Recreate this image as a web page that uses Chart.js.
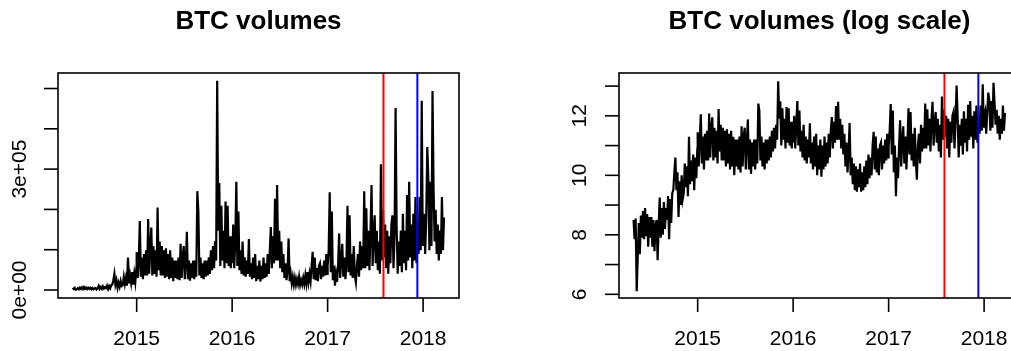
<!DOCTYPE html>
<html>
<head>
<meta charset="utf-8">
<script src="https://cdn.jsdelivr.net/npm/chart.js@4/dist/chart.umd.min.js"></script>
<style>
  html, body { margin: 0; padding: 0; background: #fff; overflow: hidden; width: 1011px; height: 351px; }
  .panel { position: absolute; top: 0; }
  #leftPanel { left: 0; }
  #rightPanel { left: 540px; }
</style>
</head>
<body>
<div class="panel" id="leftPanel"><canvas id="volChart" width="505" height="351"></canvas></div>
<div class="panel" id="rightPanel"><canvas id="logChart" width="520" height="351"></canvas></div>
<script>
// Daily BTC trading volume, sampled every 4 days, stored as natural log of volume.
const stepDays = 4;
const firstDay2014 = 120;   // 1 May 2014 (day of year)
const logVol2014 = [
  8.5, 7.85, 8.55, 6.1, 7.25, 8.4, 7.35, 8.65,
  7.9, 8.8, 7.85, 8.9, 7.95, 8.7, 7.6, 8.6,
  7.9, 8.6, 7.6, 8.5, 7.45, 8.3, 8.5, 7.15,
  8.3, 9.25, 7.9, 8.9, 8.0, 9.1, 8.2, 8.9,
  8.5, 9.3, 7.85, 9.2, 8.4, 9.4, 9.5, 10.1,
  10.6, 9.5, 10.1, 8.6, 9.8, 9.0, 10.0, 9.2,
  9.4, 10.4, 9.6, 10.3, 9.3, 11.3, 9.7, 10.5,
  9.8, 10.7, 9.5, 10.6, 9.9, 10.9
];
const logVol2015 = [
  11.45, 10.3, 11.2, 12.05, 10.4, 11.3, 10.2, 11.4,
  10.5, 11.5, 10.5, 12.08, 10.6, 11.6, 11.95, 10.5,
  11.6, 10.6, 11.5, 10.4, 12.23, 10.8, 11.7, 10.5,
  11.6, 10.5, 11.5, 10.3, 11.55, 10.4, 11.4, 10.2,
  11.5, 10.3, 11.3, 10.0, 11.2, 10.3, 11.2, 10.2,
  11.3, 10.1, 11.65, 10.3, 11.3, 11.6, 10.2, 11.1,
  11.88, 10.2, 11.2, 10.05, 11.1, 10.3, 11.2, 10.2,
  11.2, 10.4, 12.41, 12.18, 10.5, 11.3, 10.3, 11.1,
  10.2, 11.2, 10.4, 11.2, 10.5, 11.3, 10.6, 11.5,
  10.8, 11.6, 10.9, 11.7, 11.2, 13.16, 11.9, 12.49,
  11.0, 12.25, 11.2, 11.9, 10.9, 12.3, 11.1, 12.25,
  11.0, 11.8, 10.9, 11.8
];
const logVol2016 = [
  11.1, 12.0, 10.9, 11.7, 12.5, 11.0, 12.18, 10.8,
  11.5, 10.6, 11.7, 10.5, 11.3, 10.4, 11.2, 10.6,
  11.75, 10.4, 11.1, 10.2, 11.3, 10.3, 11.4, 10.0,
  11.0, 10.2, 11.2, 9.95, 11.0, 10.2, 11.3, 10.3,
  11.1, 10.4, 11.4, 10.6, 11.5, 11.96, 10.9, 11.8,
  11.1, 12.33, 11.2, 12.47, 11.2, 11.9, 10.9, 11.7,
  10.7, 11.4, 10.3, 11.1, 10.1, 10.8, 11.76, 10.0,
  10.6, 9.7, 10.4, 9.5, 10.3, 9.45, 10.2, 9.6,
  10.4, 9.45, 10.1, 9.5, 10.3, 9.6, 10.5, 9.7,
  10.7, 9.9, 10.6, 10.0, 11.0, 11.46, 10.2, 11.3,
  10.1, 10.9, 10.0, 11.0, 11.1, 10.2, 11.0, 10.4,
  11.2, 10.5, 11.4, 10.6
];
const logVol2017 = [
  11.0, 11.5, 12.4, 10.7, 12.18, 10.1, 11.0, 9.3,
  10.6, 9.9, 11.0, 11.85, 10.3, 11.2, 11.65, 10.4,
  11.3, 10.2, 11.1, 12.25, 10.7, 12.13, 10.5, 11.4,
  10.3, 11.6, 10.5, 9.85, 11.0, 11.4, 10.4, 11.7,
  10.8, 11.6, 10.9, 12.41, 10.9, 12.22, 11.0, 11.9,
  10.8, 11.9, 12.47, 11.0, 11.8, 12.13, 11.1, 11.9,
  10.8, 11.7, 10.6, 12.65, 11.2, 12.2, 11.3, 12.0,
  10.9, 11.9, 10.6, 11.8, 11.1, 12.0, 12.13, 10.9,
  11.8, 13.02, 11.98, 10.6, 11.7, 11.0, 11.9, 10.7,
  12.15, 11.1, 11.9, 10.8, 12.37, 11.2, 12.5, 11.3,
  12.0, 10.9, 12.15, 11.2, 12.35, 11.1, 11.9, 11.4,
  12.35, 11.5, 13.06, 11.6
];
const logVol2018 = [
  12.0, 12.15, 11.4, 12.1, 12.78, 12.53, 11.5, 12.5,
  11.6, 13.11, 12.45, 11.7, 12.2, 11.4, 12.0, 11.2,
  11.9, 11.4, 12.35, 11.5, 12.1
];

// Axis ticks
const yearTicks = [2015, 2016, 2017, 2018];
const volTicks = [0, 100000, 200000, 300000, 400000, 500000];
const volTickLabels = ['0e+00', '', '', '3e+05', '', ''];
const logTicks = [6, 7, 8, 9, 10, 11, 12, 13];
const logTickLabels = ['6', '', '8', '', '10', '', '12', ''];

// Vertical event markers (decimal year)
const eventMarks = [
  { x: 2017.585, color: '#ff0000' },
  { x: 2017.94, color: '#0000ff' }
];

function yearPoints(year, firstDay, values) {
  return values.map((v, k) => ({ x: year + (firstDay + k * stepDays) / 365.25, y: v }));
}

const logSeries = [].concat(
  yearPoints(2014, firstDay2014, logVol2014),
  yearPoints(2015, 0, logVol2015),
  yearPoints(2016, 0, logVol2016),
  yearPoints(2017, 0, logVol2017),
  yearPoints(2018, 0, logVol2018)
);
const volSeries = logSeries.map(p => ({ x: p.x, y: Math.exp(p.y) }));

const FONT = '"Liberation Sans", Arial, sans-serif';

// Base-graphics style frame: box, outward ticks, rotated y labels, title, markers
const rFrame = {
  id: 'rFrame',
  afterDatasetsDraw(chart, args, o) {
    const { ctx, chartArea: a } = chart;
    const xs = chart.scales.x, ys = chart.scales.y;
    const seg = (x1, y1, x2, y2) => { ctx.beginPath(); ctx.moveTo(x1, y1); ctx.lineTo(x2, y2); ctx.stroke(); };
    ctx.save();
    ctx.lineWidth = 2;
    eventMarks.forEach(m => {
      const px = xs.getPixelForValue(m.x);
      ctx.strokeStyle = m.color;
      seg(px, a.top, px, a.bottom);
    });
    ctx.strokeStyle = '#000';
    ctx.lineWidth = 1.6;
    ctx.strokeRect(a.left, a.top, a.right - a.left, a.bottom - a.top);
    ctx.fillStyle = '#000';
    ctx.textAlign = 'center';
    ctx.textBaseline = 'middle';
    ctx.font = '21px ' + FONT;
    yearTicks.forEach(t => {
      const px = xs.getPixelForValue(t);
      seg(px, a.bottom, px, a.bottom + 14);
      ctx.fillText(String(t), px, 339);
    });
    o.ticks.forEach((t, i) => {
      const py = ys.getPixelForValue(t);
      seg(a.left - 14, py, a.left, py);
      if (o.labels[i]) {
        ctx.save();
        ctx.translate(o.labelX, py);
        ctx.rotate(-Math.PI / 2);
        ctx.fillText(o.labels[i], 0, 0);
        ctx.restore();
      }
    });
    // main title centred over the plot box
    ctx.font = 'bold 26px ' + FONT;
    ctx.fillText(o.title, (a.left + a.right) / 2, 22);
    ctx.restore();
  }
};

function makeChart(id, data, yMin, yMax, pad, frameOpts) {
  return new Chart(document.getElementById(id), {
    type: 'line',
    data: { datasets: [{ data, borderColor: '#000', borderWidth: 2.2, pointRadius: 0, tension: 0, fill: false }] },
    options: {
      responsive: false,
      animation: false,
      parsing: false,
      layout: { padding: pad },
      plugins: { legend: { display: false }, tooltip: { enabled: false }, rFrame: frameOpts },
      scales: {
        x: { type: 'linear', min: 2014.176, max: 2018.376, display: false },
        y: { type: 'linear', min: yMin, max: yMax, display: false }
      }
    },
    plugins: [rFrame]
  });
}

makeChart('volChart', volSeries, -19850, 538500,
  { left: 58, top: 73, right: 46, bottom: 53 },
  { title: 'BTC volumes', ticks: volTicks, labels: volTickLabels, labelX: 20 });

makeChart('logChart', logSeries, 5.876, 13.44,
  { left: 79, top: 73, right: 40, bottom: 53 },
  { title: 'BTC volumes (log scale)', ticks: logTicks, labels: logTickLabels, labelX: 40 });
</script>
</body>
</html>
